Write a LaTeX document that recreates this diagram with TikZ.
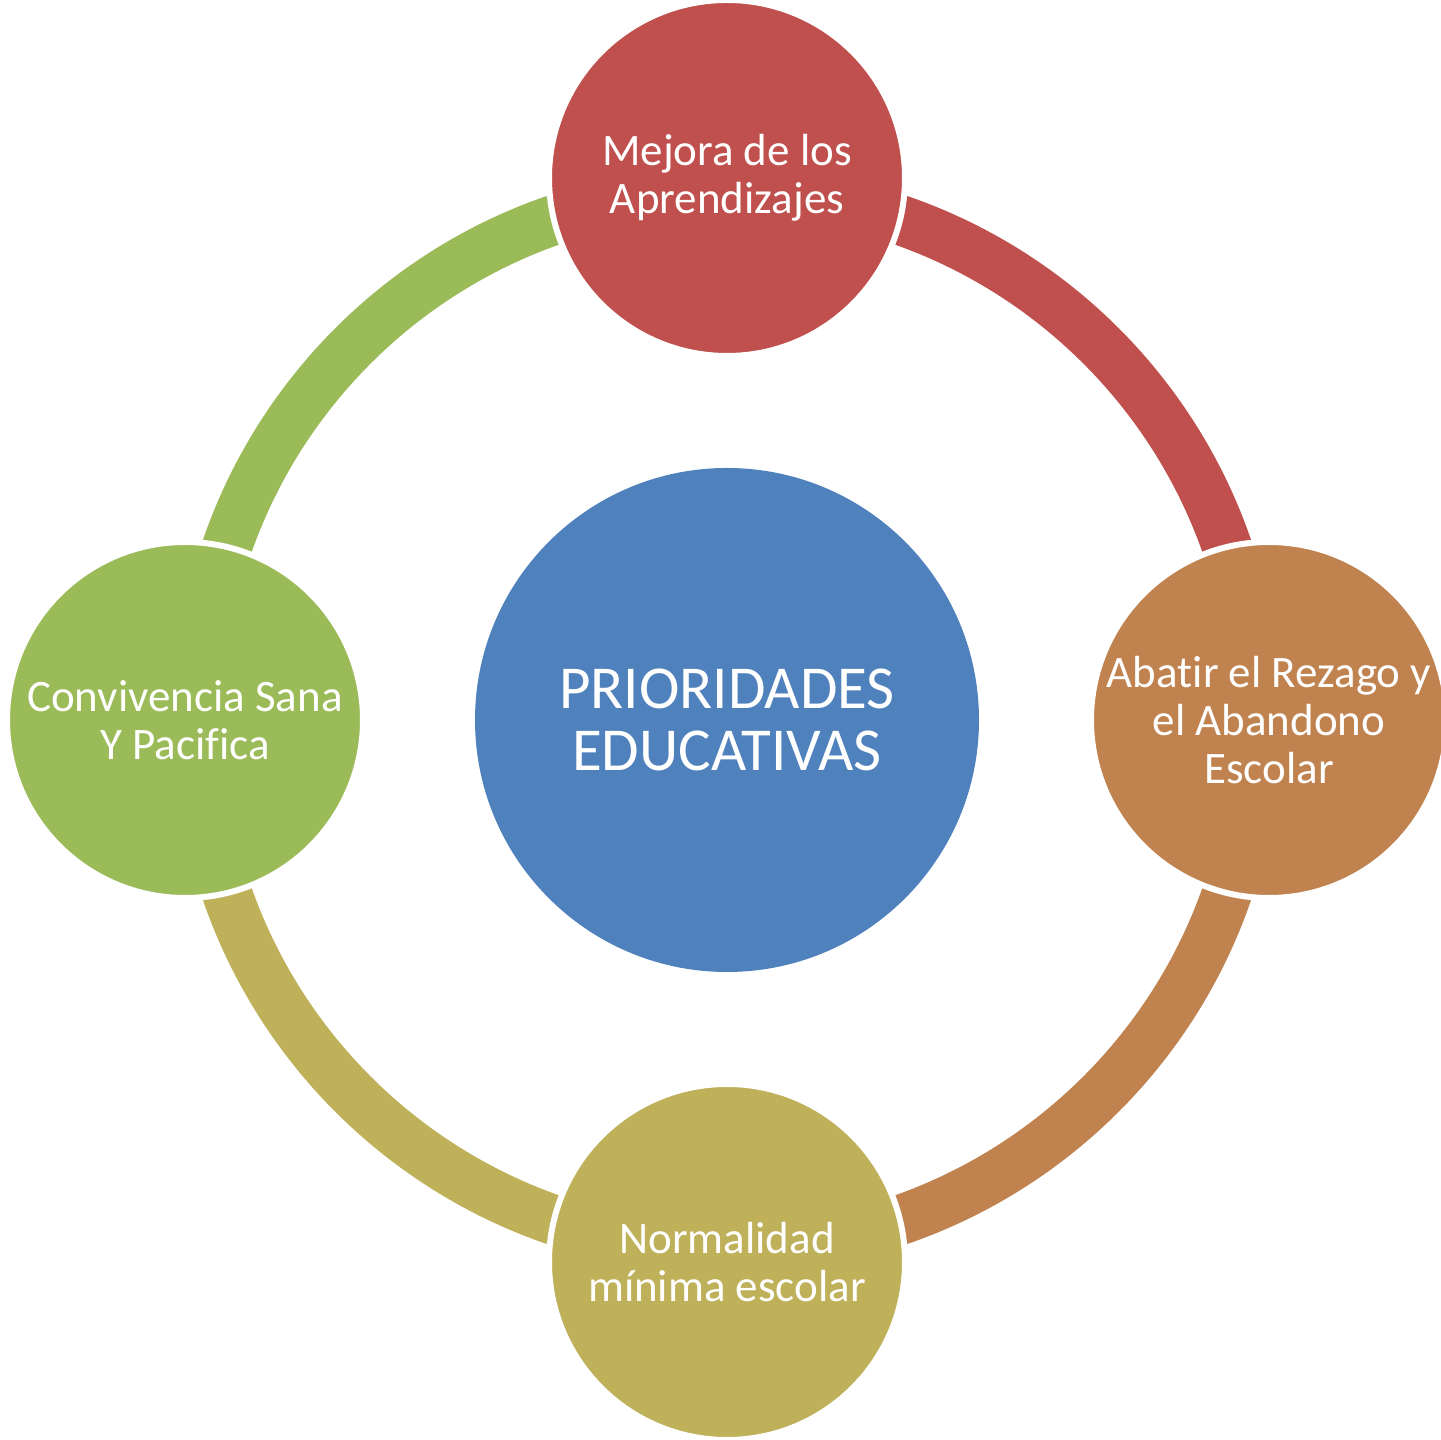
\documentclass[tikz,border=0pt]{standalone}
\usepackage{fontspec}
\setmainfont[Ligatures=NoCommon]{Carlito}
\definecolor{cred}{HTML}{C0504D}
\definecolor{cblue}{HTML}{4F81BD}
\definecolor{corange}{HTML}{C0834F}
\definecolor{colive}{HTML}{BFB05A}
\definecolor{cgreen}{HTML}{9BBB59}
\begin{document}
\begin{tikzpicture}[x=1pt,y=1pt,
  outer/.style={circle,draw=white,line width=6pt,minimum size=356pt,inner sep=0pt,
    text=white,align=center,font=\fontsize{45}{48}\selectfont},
  band/.style={line width=50pt}]
\useasboundingbox (0,0) rectangle (1441,1440);
\clip (0,0) rectangle (1441,1440);
\coordinate (c) at (727,720);
\draw[band,cred] (c) ++(90:529pt) arc[start angle=90,end angle=0,radius=529pt];
\draw[band,corange] (c) ++(0:529pt) arc[start angle=0,end angle=-90,radius=529pt];
\draw[band,colive] (c) ++(-90:529pt) arc[start angle=-90,end angle=-180,radius=529pt];
\draw[band,cgreen] (c) ++(180:529pt) arc[start angle=180,end angle=90,radius=529pt];
\node[circle,fill=cblue,minimum size=504pt,inner sep=0pt,text=white,align=center,
  font=\fontsize{61}{62}\selectfont] (center) at (c) {PRIORIDADES\\EDUCATIVAS};
\node[outer,fill=cred] (top) at (727,1262) {Mejora de los\\Aprendizajes};
\node[outer,fill=corange] (right) at (1269,720) {Abatir el Rezago y\\el Abandono\\Escolar};
\node[outer,fill=colive] (bottom) at (727,178) {Normalidad\\mínima escolar};
\node[outer,fill=cgreen] (left) at (185,720) {Convivencia Sana\\Y Pacifica};
\end{tikzpicture}
\end{document}
